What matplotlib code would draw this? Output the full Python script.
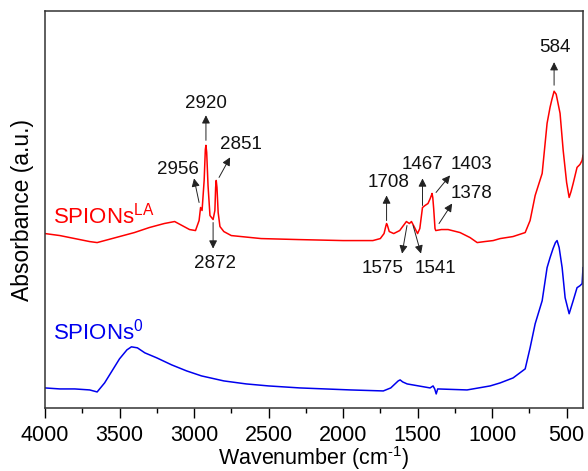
import matplotlib
matplotlib.use("Agg")
import matplotlib.pyplot as plt

plt.rcParams['font.family'] = ['Liberation Sans', 'DejaVu Sans']
plt.rcParams['mathtext.fontset'] = 'custom'
plt.rcParams['mathtext.rm'] = 'Liberation Sans'

# SPIONs-LA spectrum (wavenumber, absorbance a.u.)
la_wn = [4000, 3900, 3800, 3700, 3650, 3600, 3500, 3400, 3300, 3200, 3130, 3080, 3030, 2990,
         2966, 2956, 2946, 2932, 2924, 2920, 2915, 2906, 2893, 2872, 2860, 2855, 2851, 2846,
         2838, 2826, 2800, 2750, 2550, 2300, 2000, 1800, 1750, 1725, 1712, 1708, 1702, 1690,
         1660, 1620, 1590, 1575, 1555, 1541, 1520, 1500, 1485, 1467, 1450, 1430, 1415, 1405,
         1403, 1398, 1392, 1383, 1378, 1340, 1295, 1215, 1148, 1100, 1050, 993, 946, 860, 778,
         745, 711, 664, 631, 611, 600, 584, 570, 544, 523, 500, 483, 470, 456, 430, 410, 396, 390]
la_abs = [1.74, 1.72, 1.69, 1.66, 1.65, 1.67, 1.71, 1.75, 1.80, 1.84, 1.86, 1.82, 1.78, 1.77,
          1.87, 2.00, 1.97, 2.27, 2.58, 2.62, 2.55, 2.22, 1.92, 1.88, 1.97, 2.20, 2.27, 2.20,
          1.95, 1.81, 1.76, 1.72, 1.69, 1.68, 1.67, 1.67, 1.69, 1.74, 1.82, 1.84, 1.82, 1.76,
          1.74, 1.77, 1.83, 1.86, 1.84, 1.86, 1.80, 1.74, 1.79, 2.00, 2.02, 2.04, 2.09, 2.13,
          2.14, 2.10, 1.99, 1.79, 1.77, 1.78, 1.78, 1.75, 1.70, 1.65, 1.66, 1.67, 1.69, 1.71, 1.75,
          1.87, 2.12, 2.34, 2.84, 3.00, 3.07, 3.16, 3.13, 2.94, 2.57, 2.25, 2.10, 2.16, 2.24,
          2.40, 2.43, 2.47, 2.52]

# SPIONs-0 spectrum
bare_wn = [4000, 3900, 3800, 3700, 3650, 3600, 3550, 3500, 3450, 3420, 3380, 3330, 3250, 3150,
           3050, 2950, 2800, 2650, 2500, 2290, 1950, 1730, 1680, 1630, 1617, 1600, 1570, 1416,
           1396, 1385, 1375, 1365, 1168, 1013, 946, 859, 778, 745, 711, 664, 631, 611, 591, 575,
           564, 550, 530, 510, 483, 456, 430, 410, 396, 390]
bare_abs = [0.20, 0.19, 0.19, 0.18, 0.16, 0.25, 0.37, 0.49, 0.58, 0.61, 0.60, 0.55, 0.50, 0.43,
            0.37, 0.32, 0.27, 0.24, 0.22, 0.20, 0.18, 0.17, 0.20, 0.27, 0.28, 0.26, 0.24, 0.20,
            0.22, 0.19, 0.14, 0.19, 0.18, 0.22, 0.25, 0.30, 0.39, 0.60, 0.84, 1.07, 1.40, 1.50,
            1.59, 1.65, 1.67, 1.60, 1.40, 1.10, 0.94, 1.07, 1.20, 1.22, 1.24, 1.40]

# peak labels: text, label position, arrow tail, arrow head
peak_labels = ['2920', '2956', '2851', '2872', '1708', '1467', '1403', '1378', '1575', '1541', '584']
label_xy = [(2919, 3.04), (3107, 2.38), (2685, 2.63), (2859, 1.44), (1698, 2.25), (1470, 2.43),
            (1141, 2.43), (1141, 2.14), (1732, 1.39), (1383, 1.39), (577, 3.60)]
arrow_tail = [(2920, 2.67), (2966, 2.05), (2832, 2.30), (2872, 1.85), (1708, 1.87), (1467, 2.02),
              (1376, 2.15), (1356, 1.84), (1571, 1.82), (1530, 1.82), (584, 3.22)]
arrow_head = [(2920, 2.92), (3000, 2.29), (2758, 2.50), (2872, 1.59), (1708, 2.12), (1467, 2.29),
              (1282, 2.32), (1268, 2.04), (1604, 1.54), (1477, 1.54), (584, 3.45)]

fig = plt.figure(figsize=(5.88, 4.71), dpi=100)
ax = fig.add_axes([0.0765, 0.1338, 0.915, 0.8428])

ax.plot(la_wn, la_abs, color='#ff0000', lw=1.1)
ax.plot(bare_wn, bare_abs, color='#0000ee', lw=1.1)

for txt, pos, tail, head in zip(peak_labels, label_xy, arrow_tail, arrow_head):
    ax.text(pos[0], pos[1], txt, fontsize=13.5, ha='center', va='center', color='#111111')
    ax.annotate('', xy=head, xytext=tail,
                arrowprops=dict(arrowstyle='-|>', color='#222222', lw=0.7, mutation_scale=12,
                                shrinkA=0, shrinkB=0))

ax.text(3946, 1.84, 'SPIONs$^{\\rm LA}$', color='#ff0000', fontsize=16, ha='left', va='baseline')
ax.text(3946, 0.68, 'SPIONs$^{\\rm 0}$', color='#0000ee', fontsize=16, ha='left', va='baseline')

ax.set_xlim(4000, 390)
ax.set_ylim(0, 3.96)
ax.set_xticks([4000, 3500, 3000, 2500, 2000, 1500, 1000, 500])
ax.set_xticks(range(3750, 390, -500), minor=True)
ax.set_yticks([])
ax.tick_params(axis='x', which='major', direction='out', length=7, width=1, labelsize=15.5, pad=5)
ax.tick_params(axis='x', which='minor', direction='out', length=3.5, width=1)
for s in ax.spines.values():
    s.set_linewidth(1.1)
    s.set_color('#333333')

ax.set_xlabel('Wavenumber (cm$^{\\rm \u20101}$)', fontsize=15.5, va='baseline')
ax.xaxis.set_label_coords(0.5, -0.144)
ax.set_ylabel('Absorbance (a.u.)', fontsize=16.5, labelpad=8)

plt.savefig('out.png', dpi=100)
